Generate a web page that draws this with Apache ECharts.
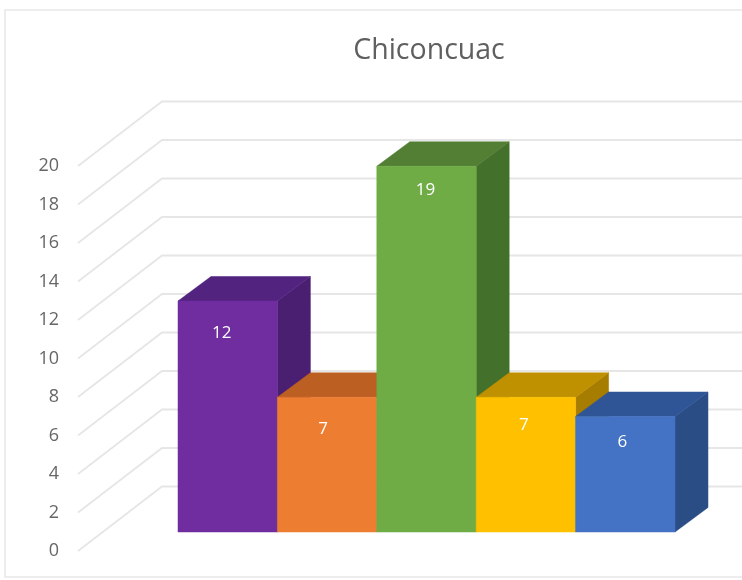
<!DOCTYPE html>
<html>
<head>
<meta charset="utf-8">
<style>
html,body{margin:0;padding:0;background:#fff;overflow:hidden}
#chart{width:742px;height:580px;filter:blur(0.7px)}
</style>
<script src="https://cdn.jsdelivr.net/npm/echarts@6/dist/echarts.min.js"></script>
</head>
<body>
<div id="chart"></div>
<script>
var chartTitle = 'Chiconcuac';
var categories = ['1', '2', '3', '4', '5'];
var values = [12, 7, 19, 7, 6];
var tickValues = [0, 2, 4, 6, 8, 10, 12, 14, 16, 18, 20];

var frontColors = ['#6F2DA0', '#ED7D31', '#6FAC46', '#FFC000', '#4472C4'];
var topColors = ['#532380', '#BC5F22', '#527F34', '#BF9000', '#2F5597'];
var sideColors = ['#4A1F72', '#A9541D', '#43702A', '#A67D00', '#2A4D86'];

// projection of the 3D box, in pixels
var wallDX = 84, wallDY = -64.5, wallLeft = 100;
var floorDY = -19;
var depthDX = 33, depthDY = -24.5;
var labelNudge = [[-6, 6], [-4, 6], [-1, -2], [-2, 2], [-3, 0]];

function poly(points, fill) {
  return {type: 'polygon', shape: {points: points}, style: {fill: fill, stroke: fill, lineWidth: 0.5}};
}

function renderWall(params, api) {
  var rect = params.coordSys;
  var p = api.coord([0, api.value(0)]);
  var x0 = rect.x - wallLeft, y0 = p[1];
  return {
    type: 'polyline',
    shape: {points: [[x0, y0], [x0 + wallDX, y0 + wallDY], [rect.x + rect.width + 80, y0 + wallDY]]},
    style: {fill: 'none', stroke: '#E6E6E6', lineWidth: 1.8}
  };
}

function renderBar(params, api) {
  var i = params.dataIndex;
  var c = api.coord([api.value(0), api.value(1)]);
  var base = api.coord([api.value(0), 0]);
  var w = api.size([1, 0])[0];
  var l = c[0] - w / 2, r = c[0] + w / 2;
  var t = c[1] + floorDY, b = base[1] + floorDY;
  var n = labelNudge[i];
  return {
    type: 'group',
    children: [
      poly([[r, t], [r + depthDX, t + depthDY], [r + depthDX, b + depthDY], [r, b]], sideColors[i]),
      poly([[l, t], [r, t], [r + depthDX, t + depthDY], [l + depthDX, t + depthDY]], topColors[i]),
      poly([[l, t], [r, t], [r, b], [l, b]], frontColors[i]),
      {
        type: 'text',
        style: {
          x: c[0] + n[0], y: t + 26 + n[1],
          text: String(api.value(1)),
          fill: '#FFFFFF',
          font: '500 17px "Open Sans"',
          textAlign: 'center', textVerticalAlign: 'middle'
        }
      }
    ]
  };
}

var chart = echarts.init(document.getElementById('chart'), null, {renderer: 'canvas'});
chart.setOption({
  animation: false,
  backgroundColor: '#FFFFFF',
  title: {
    text: chartTitle,
    left: 424, top: 31,
    textAlign: 'center',
    textStyle: {fontFamily: 'Open Sans', fontSize: 28.5, fontWeight: 'normal', color: '#5F5F5F'}
  },
  graphic: [{
    type: 'rect', z: -1,
    shape: {x: 5, y: 10, width: 800, height: 567},
    style: {fill: '#FFFFFF', stroke: '#E8E8E8', lineWidth: 1.5}
  }],
  grid: {left: 178, right: 67, top: 166, bottom: 29},
  xAxis: {
    type: 'category', data: categories,
    axisLine: {show: false}, axisTick: {show: false}, axisLabel: {show: false}
  },
  yAxis: {
    type: 'value', min: 0, max: 20, interval: 2,
    axisLine: {show: false}, axisTick: {show: false}, splitLine: {show: false},
    axisLabel: {margin: 119, fontFamily: 'Open Sans', fontSize: 18, color: '#666666'}
  },
  series: [
    {
      type: 'custom', clip: false, z: 1, silent: true,
      renderItem: renderWall, encode: {y: 0},
      data: tickValues.map(function (v) { return [v]; })
    },
    {
      type: 'custom', clip: false, z: 2, silent: true,
      renderItem: renderBar, encode: {x: 0, y: 1},
      data: values.map(function (v, i) { return [i, v]; })
    }
  ]
});
</script>
</body>
</html>
